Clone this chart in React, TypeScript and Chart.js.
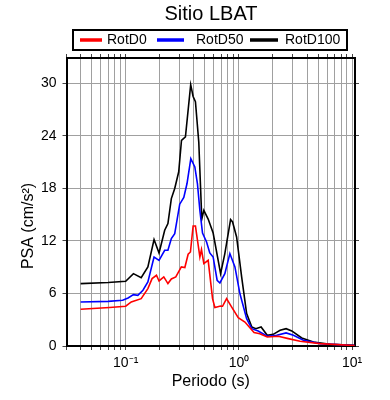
import React, { useEffect, useRef } from 'react';
import { Chart, registerables } from 'chart.js';

Chart.register(...registerables);

// ---- data ----
const periodsD0 = [0.04, 0.072, 0.1, 0.112, 0.137, 0.157, 0.171, 0.187, 0.197, 0.217, 0.236, 0.253, 0.277, 0.31, 0.333, 0.356, 0.373, 0.394, 0.413, 0.452, 0.467, 0.49, 0.535, 0.585, 0.613, 0.689, 0.717, 0.778, 0.861, 0.986, 1.13, 1.36, 1.53, 1.78, 2.23, 2.73, 3.47, 5.2, 10.5];
const valuesD0 = [4.19, 4.39, 4.54, 5.03, 5.41, 6.56, 7.7, 8.08, 7.43, 7.89, 7.13, 7.66, 7.89, 9.03, 8.96, 10.48, 10.74, 13.71, 13.71, 10.17, 11.02, 9.41, 9.79, 5.41, 4.4, 4.57, 4.54, 5.41, 4.46, 3.24, 2.74, 1.53, 1.41, 1.03, 1.11, 0.84, 0.54, 0.27, 0.05];

const periodsD50 = [0.04, 0.07, 0.094, 0.105, 0.117, 0.128, 0.142, 0.157, 0.178, 0.197, 0.221, 0.236, 0.253, 0.271, 0.3, 0.326, 0.348, 0.376, 0.408, 0.43, 0.452, 0.477, 0.518, 0.553, 0.592, 0.642, 0.679, 0.751, 0.832, 0.922, 1.02, 1.17, 1.3, 1.48, 1.78, 2.16, 2.61, 3.03, 3.71, 5.2, 10.5];
const valuesD50 = [5.03, 5.1, 5.22, 5.49, 5.87, 5.79, 6.37, 7.31, 10.17, 9.79, 10.94, 10.94, 12.27, 12.84, 16.2, 16.96, 18.56, 21.4, 20.46, 18.56, 15.5, 12.9, 11.89, 10.63, 10.17, 7.51, 7.2, 8.27, 10.56, 9.03, 5.99, 3.13, 1.98, 1.72, 1.11, 1.22, 1.49, 1.22, 0.65, 0.27, 0.06];

const periodsD100 = [0.04, 0.07, 0.1, 0.117, 0.137, 0.157, 0.178, 0.197, 0.221, 0.236, 0.253, 0.271, 0.294, 0.311, 0.337, 0.375, 0.394, 0.413, 0.442, 0.47, 0.49, 0.535, 0.592, 0.689, 0.751, 0.844, 0.879, 0.954, 1.057, 1.17, 1.3, 1.41, 1.57, 1.78, 2.01, 2.31, 2.61, 2.93, 3.59, 4.55, 6.4, 10.5];
const valuesD100 = [7.13, 7.25, 7.39, 8.27, 7.81, 9.03, 12.16, 10.63, 13.22, 13.98, 16.84, 17.99, 19.9, 23.5, 23.9, 29.85, 28.5, 27.9, 23.3, 14.5, 15.5, 14.5, 12.9, 8.27, 10.56, 14.44, 14.17, 12.46, 7.89, 3.7, 2.17, 1.98, 2.17, 1.22, 1.33, 1.79, 1.98, 1.72, 0.92, 0.46, 0.2, 0.08];

const seriesLabels = ['RotD0', 'RotD50', 'RotD100'];
const seriesColors = ['#ff0000', '#0000ff', '#000000'];

const yTickValues = [0, 6, 12, 18, 24, 30];
const xTickValues = [0.03, 0.04, 0.05, 0.06, 0.07, 0.08, 0.09, 0.1, 0.2, 0.3, 0.4, 0.5, 0.6, 0.7, 0.8, 0.9, 1, 2, 3, 4, 5, 6, 7, 8, 9, 10];
const xMajorValues = [0.1, 1, 10];
const xMajorLabels = ['10⁻¹', '10⁰', '10¹'];

const titleText = 'Sitio LBAT';
const xTitleText = 'Periodo (s)';
const yTitleText = 'PSA (cm/s²)';

const FONT = '"Liberation Sans", Arial, Helvetica, sans-serif';

const legendBoxPlugin = {
  id: 'legendBox',
  afterDraw(chart: any) {
    const ctx = chart.ctx;
    ctx.save();
    ctx.strokeStyle = '#000';
    ctx.lineWidth = 2;
    ctx.strokeRect(73, 30, 274, 20);
    const lineX = [80, 157, 250];
    const lineW = [22, 27, 28];
    const textX = [107, 196, 285];
    const yc = 40;
    ctx.font = '14px ' + FONT;
    ctx.textBaseline = 'middle';
    ctx.textAlign = 'left';
    chart.data.datasets.forEach((ds: any, i: number) => {
      ctx.fillStyle = ds.borderColor;
      ctx.fillRect(lineX[i], yc - 1.75, lineW[i], 3.5);
      ctx.fillStyle = '#000';
      ctx.fillText(ds.label, textX[i], yc + 0.5);
    });
    ctx.restore();
  },
};

const yTitlePlugin = {
  id: 'yTitle',
  afterDraw(chart: any) {
    const ctx = chart.ctx;
    ctx.save();
    ctx.translate(29, 226);
    ctx.rotate(-Math.PI / 2);
    ctx.font = '16px ' + FONT;
    ctx.fillStyle = '#000';
    ctx.textAlign = 'center';
    ctx.textBaseline = 'middle';
    ctx.fillText(yTitleText, 0, 0);
    ctx.restore();
  },
};

export default function App() {
  const canvasRef = useRef<HTMLCanvasElement | null>(null);

  useEffect(() => {
    const canvas = canvasRef.current;
    if (!canvas) return;
    const gridColor = 'rgb(160,160,160)';
    const mk = (p: number[], v: number[]) => p.map((x, i) => ({ x, y: v[i] }));
    const xTickCb = (value: any) => {
      const i = xMajorValues.findIndex((m) => Math.abs(m - Number(value)) / m < 1e-6);
      return i >= 0 ? xMajorLabels[i] : '';
    };
    const setXTicks = (scale: any) => {
      scale.ticks = xTickValues.map((v) => ({ value: v }));
    };
    const setYTicks = (scale: any) => {
      scale.ticks = yTickValues.map((v) => ({ value: v }));
    };
    const chart = new Chart(canvas, {
      type: 'line',
      data: {
        datasets: [
          { label: seriesLabels[0], data: mk(periodsD0, valuesD0), borderColor: seriesColors[0], backgroundColor: seriesColors[0] },
          { label: seriesLabels[1], data: mk(periodsD50, valuesD50), borderColor: seriesColors[1], backgroundColor: seriesColors[1] },
          { label: seriesLabels[2], data: mk(periodsD100, valuesD100), borderColor: seriesColors[2], backgroundColor: seriesColors[2] },
        ],
      },
      options: {
        animation: false,
        responsive: false,
        devicePixelRatio: 1,
        elements: {
          line: { borderWidth: 1.6, tension: 0 },
          point: { radius: 0, hoverRadius: 0 },
        },
        layout: { padding: { left: 32, right: 0, top: 0, bottom: 0 } },
        plugins: {
          legend: { display: false },
          tooltip: { enabled: false },
          title: {
            display: true,
            text: titleText,
            color: '#000',
            font: { family: FONT, size: 20, weight: 'normal' },
            padding: { top: 2, bottom: 3 },
          },
        },
        scales: {
          x: {
            type: 'logarithmic',
            position: 'bottom',
            min: 0.03,
            max: 10.6,
            afterBuildTicks: setXTicks,
            afterFit: (s: any) => { s.height = 54; },
            ticks: {
              autoSkip: false,
              maxRotation: 0,
              minRotation: 0,
              padding: 5,
              color: '#000',
              font: { family: FONT, size: 14 },
              callback: xTickCb,
            },
            grid: { color: gridColor, lineWidth: 1, tickLength: 4, tickColor: '#444' },
            border: { display: true, color: '#000', width: 2 },
            title: {
              display: true,
              text: xTitleText,
              color: '#000',
              font: { family: FONT, size: 16 },
              padding: { top: 0, bottom: 9 },
            },
          },
          x2: {
            type: 'logarithmic',
            position: 'top',
            min: 0.03,
            max: 10.6,
            afterBuildTicks: setXTicks,
            afterFit: (s: any) => { s.height = 29; },
            ticks: { display: false, autoSkip: false },
            grid: { drawOnChartArea: false, tickLength: 4, tickColor: '#444' },
            border: { display: true, color: '#000', width: 2 },
          },
          y: {
            type: 'linear',
            position: 'left',
            min: 0,
            max: 32.9,
            afterBuildTicks: setYTicks,
            afterFit: (s: any) => { s.width = 34.5; },
            ticks: {
              padding: 6,
              color: '#000',
              font: { family: FONT, size: 14 },
            },
            grid: { color: gridColor, lineWidth: 1, tickLength: 4, tickColor: '#444' },
            border: { display: true, color: '#000', width: 2 },
          },
          y2: {
            type: 'linear',
            position: 'right',
            min: 0,
            max: 32.9,
            afterBuildTicks: setYTicks,
            afterFit: (s: any) => { s.width = 35; },
            ticks: { display: false },
            grid: { drawOnChartArea: false, tickLength: 4, tickColor: '#444' },
            border: { display: true, color: '#000', width: 2 },
          },
        },
      },
      plugins: [legendBoxPlugin, yTitlePlugin],
    } as any);
    return () => chart.destroy();
  }, []);

  return (
    <div style={{ position: 'fixed', left: 0, top: 0, width: 390, height: 400, background: '#fff' }}>
      <canvas ref={canvasRef} width={390} height={400} style={{ width: 390, height: 400, display: 'block' }} />
    </div>
  );
}
